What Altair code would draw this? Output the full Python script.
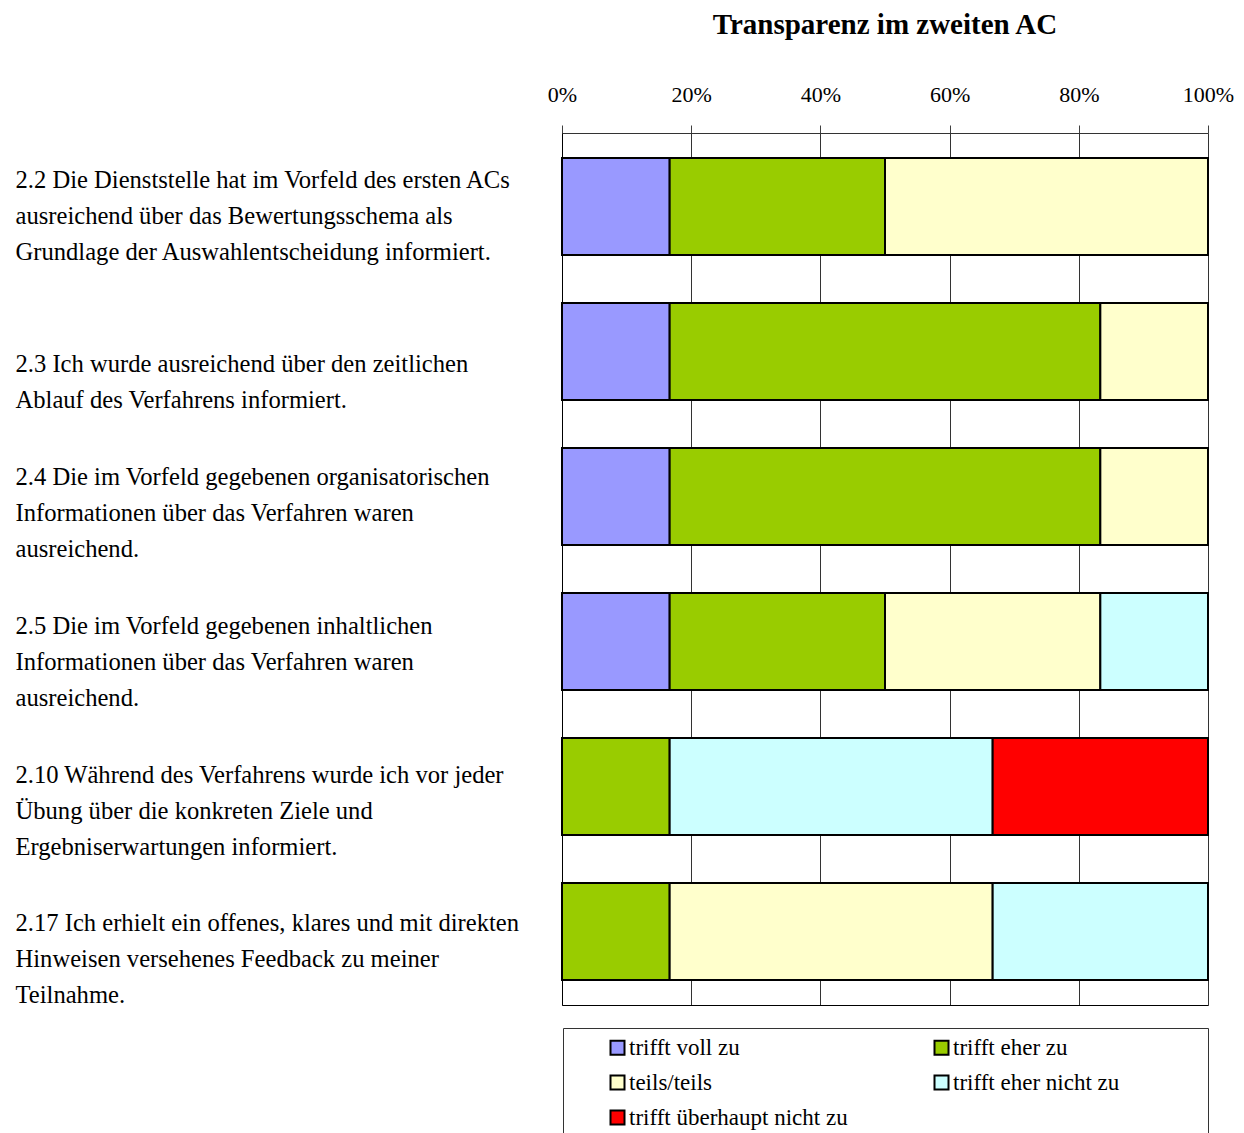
import altair as alt
import pandas as pd

# Question texts (each line of the multi-line label)
questions = [
    ["2.2 Die Dienststelle hat im Vorfeld des ersten ACs",
     "ausreichend über das Bewertungsschema als",
     "Grundlage der Auswahlentscheidung informiert."],
    ["2.3  Ich wurde ausreichend über den zeitlichen",
     "Ablauf des Verfahrens informiert."],
    ["2.4  Die im Vorfeld gegebenen organisatorischen",
     "Informationen über das Verfahren  waren",
     "ausreichend."],
    ["2.5 Die im Vorfeld gegebenen inhaltlichen",
     "Informationen über das Verfahren  waren",
     "ausreichend."],
    ["2.10 Während des Verfahrens wurde ich vor jeder",
     "Übung über die konkreten Ziele und",
     "Ergebniserwartungen informiert."],
    ["2.17 Ich erhielt ein offenes, klares und mit direkten",
     "Hinweisen versehenes Feedback zu meiner",
     "Teilnahme."],
]
labels = ["|".join(q) for q in questions]

categories = ["trifft voll zu", "trifft eher zu", "teils/teils",
              "trifft eher nicht zu", "trifft überhaupt nicht zu"]
colors = ["#9999FF", "#99CC00", "#FFFFCC", "#CCFFFF", "#FF0000"]

# answer counts per question (6 respondents)
voll = [1, 1, 1, 1, 0, 0]
eher = [2, 4, 4, 2, 1, 1]
teils = [3, 1, 1, 2, 0, 3]
eher_nicht = [0, 0, 0, 1, 3, 2]
gar_nicht = [0, 0, 0, 0, 2, 0]
series = [voll, eher, teils, eher_nicht, gar_nicht]

rows = []
for ci, (cat, vals) in enumerate(zip(categories, series)):
    for q, v in zip(labels, vals):
        if v > 0:
            rows.append({"question": q, "category": cat, "value": v, "order": ci})
df = pd.DataFrame(rows)

FONT = "Liberation Serif"
pad = "\u00a0" * 14 + "\u200b"

# per-question vertical label shift (label layout of the original)
label_shift = {"2.2 ": -25, "2.3 ": 14, "2.4 ": -18, "2.10 ": -11, "2.17 ": -8}
offset_conditions = [
    {"test": f"indexof(datum.value, '{k}') == 0", "value": v}
    for k, v in label_shift.items()
]

x_top = alt.X(
    "value:Q", stack="normalize",
    scale=alt.Scale(domain=[0, 1], nice=False),
    axis=alt.Axis(orient="top", format=".0%", values=[0, 0.2, 0.4, 0.6, 0.8, 1.0],
                  labelFont=FONT, labelFontSize=22, labelColor="black",
                  labelFlush=False, labelPadding=19,
                  tickSize=8, tickColor="#404040", tickWidth=1,
                  grid=True, gridColor="#333333", gridWidth=1, gridOpacity=1,
                  domain=True, domainColor="#333333", domainWidth=1),
    title=None,
)

y_enc = alt.Y(
    "question:N", sort=labels, title=None,
    scale=alt.Scale(paddingInner=0.331, paddingOuter=0.172),
    axis=alt.Axis(orient="left", labelAlign="left", labelBaseline="middle",
                  labelPadding=547, ticks=False, domain=True,
                  domainColor="black", domainWidth=1, grid=False,
                  labelFont=FONT, labelFontSize=24.6, labelColor="black",
                  labelLineHeight=36, labelLimit=700,
                  labelExpr="split(datum.label, '|')",
                  labelOffset={"condition": offset_conditions, "value": -15}),
)

bars = alt.Chart(df).mark_bar(stroke="black", strokeWidth=2, opacity=1).encode(
    x=x_top,
    y=y_enc,
    color=alt.Color(
        "category:N",
        scale=alt.Scale(domain=categories, range=colors),
        legend=alt.Legend(
            orient="none", legendX=1, legendY=895, columns=2,
            direction="horizontal", title=None, gridAlign="each",
            labelFont=FONT, labelFontSize=23, labelColor="black", labelLimit=600,
            labelOffset=0,
            labelExpr=f"indexof(['trifft eher zu', 'trifft eher nicht zu'], datum.label) >= 0 ? datum.label + '{pad}' : datum.label",
            symbolType="square", symbolSize=196, symbolStrokeColor="black",
            symbolStrokeWidth=2, symbolOpacity=1, symbolOffset=35,
            strokeColor="#333333", fillColor="white", padding=8,
            rowPadding=11, columnPadding=47,
        ),
    ),
    order=alt.Order("order:Q"),
)

bottom_line = alt.Chart(df).mark_bar(opacity=0).encode(
    x=alt.X("value:Q", stack="normalize",
            scale=alt.Scale(domain=[0, 1], nice=False),
            axis=alt.Axis(orient="bottom", labels=False, ticks=False, grid=False,
                          domain=True, domainColor="black", domainWidth=1),
            title=None),
)

chart = alt.layer(bars, bottom_line).resolve_axis(x="independent").properties(
    width=646, height=872,
    padding={"left": 15, "top": 11, "right": 5, "bottom": 5},
    title=alt.TitleParams("Transparenz im zweiten AC", font=FONT, fontSize=29,
                          fontWeight="bold", anchor="middle", frame="group",
                          offset=43, color="black"),
).configure_view(stroke=None).configure(background="white")

chart.save("out.html", embed_options={"renderer": "svg", "actions": False})
